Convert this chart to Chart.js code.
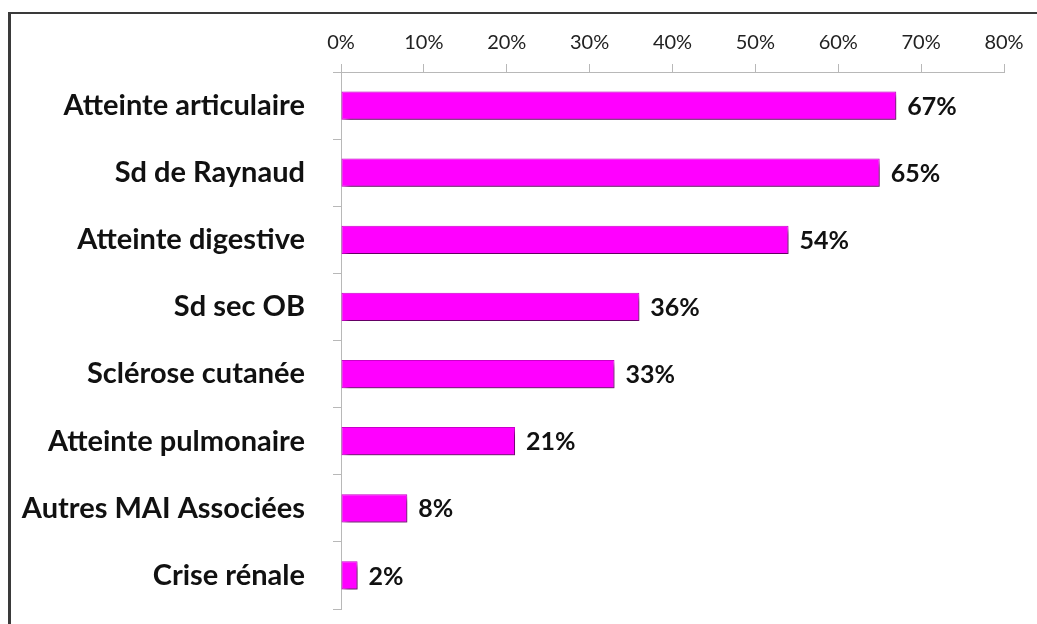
<!DOCTYPE html>
<html>
<head>
<meta charset="utf-8">
<script src="https://cdn.jsdelivr.net/npm/chart.js@4.4.1/dist/chart.umd.min.js"></script>
<style>
  html, body { margin: 0; padding: 0; background: #ffffff; }
  #frame {
    position: absolute; left: 8px; top: 12px; width: 1040px; height: 620px;
    border-top: 2px solid #3a3a3a; border-left: 3px solid #3a3a3a;
  }
  #wrap { position: absolute; left: 0; top: 0; width: 1037px; height: 624px; }
</style>
</head>
<body>
<div id="frame"></div>
<div id="wrap"><canvas id="c" width="1037" height="624"></canvas></div>
<script>
const categories = [
  'Atteinte articulaire',
  'Sd de Raynaud',
  'Atteinte digestive',
  'Sd sec OB',
  'Sclérose cutanée',
  'Atteinte pulmonaire',
  'Autres MAI Associées',
  'Crise rénale'
];
const percentages = [67, 65, 54, 36, 33, 21, 8, 2];
const axisTicks = [0, 10, 20, 30, 40, 50, 60, 70, 80];

const FONT = 'Lato, "DejaVu Sans", sans-serif';

// Soft drop shadow under the bars
const barShadow = {
  id: 'barShadow',
  beforeDatasetsDraw(chart) {
    const ctx = chart.ctx;
    ctx.save();
    ctx.shadowColor = 'rgba(0,0,0,0.6)';
    ctx.shadowBlur = 5;
    ctx.shadowOffsetX = 3;
    ctx.shadowOffsetY = 4;
  },
  afterDatasetsDraw(chart) {
    chart.ctx.restore();
  }
};

// Value labels at the end of each bar
const valueLabels = {
  id: 'valueLabels',
  afterDatasetsDraw(chart) {
    const ctx = chart.ctx;
    const meta = chart.getDatasetMeta(0);
    ctx.save();
    ctx.font = 'bold 25px ' + FONT;
    ctx.fillStyle = '#111111';
    ctx.textAlign = 'left';
    ctx.textBaseline = 'middle';
    meta.data.forEach((bar, i) => {
      ctx.fillText(percentages[i] + '%', bar.x + 11, bar.y + 1);
    });
    ctx.restore();
  }
};

new Chart(document.getElementById('c'), {
  type: 'bar',
  data: {
    labels: categories,
    datasets: [{
      data: percentages,
      backgroundColor: '#ff00ff',
      borderColor: '#cc00cc',
      borderWidth: 1,
      borderSkipped: false,
      categoryPercentage: 1,
      barPercentage: 0.42
    }]
  },
  options: {
    indexAxis: 'y',
    responsive: false,
    animation: false,
    devicePixelRatio: 1,
    layout: { padding: { left: 0, right: 33, top: 0, bottom: 15 } },
    plugins: {
      legend: { display: false },
      tooltip: { enabled: false }
    },
    scales: {
      x: {
        position: 'top',
        min: 0,
        max: 80,
        afterBuildTicks(scale) {
          scale.ticks = axisTicks.map(v => ({ value: v }));
        },
        afterFit(scale) { scale.height = 72; },
        ticks: {
          callback: v => v + '%',
          font: { family: FONT, size: 20 },
          color: '#222222',
          padding: 9,
          maxRotation: 0
        },
        grid: {
          drawOnChartArea: false,
          drawTicks: true,
          tickLength: 8,
          color: '#b8b8b8',
          lineWidth: 1
        },
        border: { color: '#b8b8b8', width: 1 }
      },
      y: {
        afterFit(scale) {
          scale.width = 341;
          scale.paddingTop = 0;
          scale.paddingBottom = 0;
        },
        ticks: {
          font: { family: FONT, size: 29, weight: 'bold' },
          color: '#111111',
          padding: 28
        },
        grid: {
          drawOnChartArea: false,
          drawTicks: true,
          tickLength: 8,
          offset: true,
          color: '#b8b8b8',
          lineWidth: 1
        },
        border: { color: '#b8b8b8', width: 1 }
      }
    }
  },
  plugins: [barShadow, valueLabels]
});
</script>
</body>
</html>
